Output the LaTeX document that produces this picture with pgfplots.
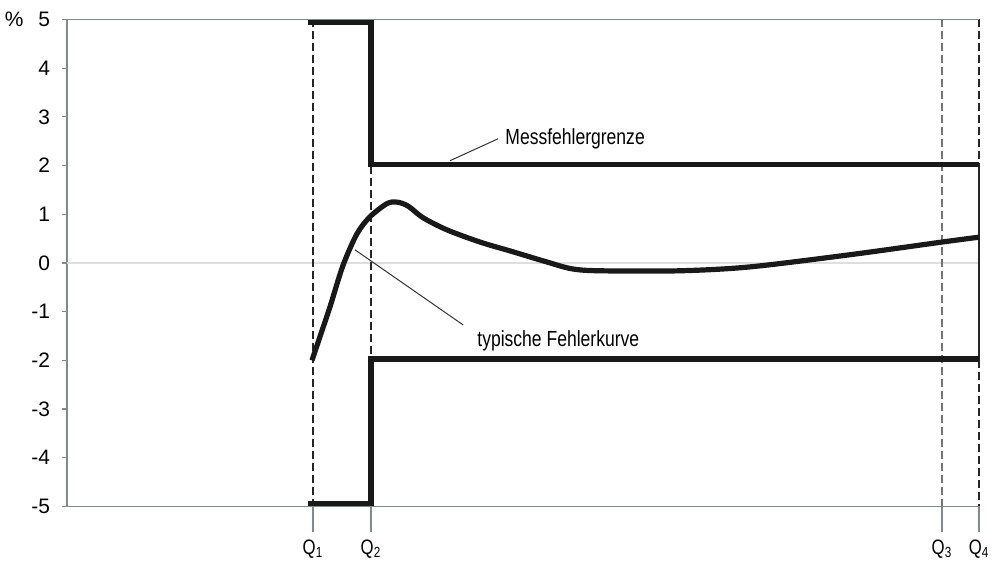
\documentclass[border=0pt]{standalone}
\usepackage{fontspec}
\setmainfont{Liberation Sans}
\newfontfamily\narrow[FakeStretch=0.8]{Liberation Sans}
\usepackage{pgfplots}
\pgfplotsset{compat=1.18}
\definecolor{axisgray}{RGB}{125,140,145}
\definecolor{zerogray}{RGB}{222,222,222}

% x positions of the flow points
\def\qa{313}\def\qb{371}\def\qc{942}\def\qd{979}

\begin{document}
\begin{tikzpicture}
\begin{axis}[
    name=ax,
    scale only axis,
    width=456bp, height=243.5bp,
    xmin=67, xmax=979,
    ymin=-5, ymax=5,
    axis x line*=bottom,
    axis y line*=left,
    axis line style={axisgray, line width=0.8bp},
    clip=false,
    tick align=outside,
    major tick length=2.5bp,
    tick style={axisgray, line width=0.6bp},
    xtick={313,371,942,979},
    xticklabels={Q\textsubscript{1},Q\textsubscript{2},Q\textsubscript{3},Q\textsubscript{4}},
    xtick style={draw=none},
    xticklabel style={font=\narrow\fontsize{10.5}{12}\selectfont, yshift=-10.5bp},
    ytick={-5,-4,...,5},
    yticklabel style={font=\fontsize{10.5}{12}\selectfont, xshift=-2.5bp},
    /pgf/number format/assume math mode=true,
]
% zero line
\addplot[zerogray, line width=0.8bp] coordinates {(67,0) (979,0)};
% long ticks below the Q positions
\foreach \q in {\qa,\qb,\qc,\qd}{
  \edef\tmp{\noexpand\draw[axisgray, line width=0.8bp] (axis cs:\q,-5) -- ([yshift=-12.5bp]axis cs:\q,-5);}\tmp
}
% dashed guide lines
\addplot[black!85, line width=0.8bp, dash pattern=on 4bp off 2bp] coordinates {(\qa,5) (\qa,-5)};
\addplot[black!85, line width=0.8bp, dash pattern=on 4bp off 2bp] coordinates {(\qb,2) (\qb,-2)};
\addplot[black!55, line width=1bp, dash pattern=on 4bp off 2bp] coordinates {(\qc,5) (\qc,-5)};
\addplot[black!85, line width=0.8bp, dash pattern=on 4bp off 2bp] coordinates {(\qd,5) (\qd,2)};
\addplot[black!85, line width=0.8bp, dash pattern=on 4bp off 2bp] coordinates {(\qd,-2) (\qd,-5)};
\addplot[black!85, line width=0.9bp] coordinates {(\qd,2) (\qd,-2)};
% error limits
\addplot[black!90, line width=2.7bp, line join=miter] coordinates {(308,4.94) (\qb,4.94) (\qb,2.02) (\qd,2.02)};
\addplot[black!90, line width=2.7bp, line join=miter] coordinates {(308,-4.94) (\qb,-4.94) (\qb,-1.97) (\qd,-1.97)};
% typical error curve
\addplot[black!90, line width=2.6bp, smooth, tension=0.5] coordinates {
  (312,-2.0) (321,-1.45) (330,-0.9) (343,-0.05) (357,0.6) (370,0.95)
  (387,1.22) (397,1.25) (408,1.17) (423,0.93) (447,0.68) (480,0.43)
  (513,0.23) (547,0.02) (572,-0.12) (600,-0.16) (680,-0.16) (750,-0.08)
  (850,0.17) (942,0.43) (979,0.53)};
% annotations
\draw[black!80, line width=0.5bp] (axis cs:450,2.1) -- (axis cs:498,2.55);
\node[anchor=base west, inner sep=0, font=\narrow\fontsize{11}{13}\selectfont] at (axis cs:505,2.43) {Messfehlergrenze};
\draw[black!80, line width=0.5bp] (axis cs:355,0.27) -- (axis cs:463,-1.27);
\node[anchor=base west, inner sep=0, font=\narrow\fontsize{11}{13}\selectfont] at (axis cs:477,-1.72) {typische Fehlerkurve};
\node[anchor=east, inner sep=0, font=\fontsize{10.5}{12}\selectfont] at ([xshift=-21.5bp]rel axis cs:0,1) {\%};
\end{axis}
% top frame line
\draw[axisgray, line width=0.9bp] (ax.north west) -- (ax.north east);
\pgfresetboundingbox
\path ([shift={(-33.5bp,-28.15bp)}]ax.south west) rectangle ([shift={(6.5bp,9.75bp)}]ax.north east);
\end{tikzpicture}
\end{document}
